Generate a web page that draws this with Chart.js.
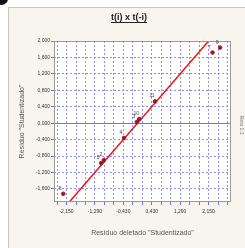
<!DOCTYPE html>
<html>
<head>
<meta charset="utf-8">
<script src="https://cdn.jsdelivr.net/npm/chart.js@4"></script>
<style>
  html, body { margin: 0; padding: 0; background: #ffffff; }
  #wrap { position: relative; width: 245px; height: 248px; overflow: hidden; }
  #frame { position: absolute; left: 8px; top: 7px; width: 245px; height: 248px;
           background: #f7f5ee; border-left: 1px solid #c8c6c0; border-top: 1px solid #c8c6c0; }
  #dot { position: absolute; left: -5px; top: -8px; width: 13px; height: 13px; border-radius: 50%; background: #111; }
  canvas { position: absolute; left: 0; top: 0; }
</style>
</head>
<body>
<div id="wrap">
  <div id="frame"></div>
  <div id="dot"></div>
  <canvas id="resChart" width="245" height="248"></canvas>
</div>
<script>
// tick labels
const xTickValues = [-2.15, -1.29, -0.43, 0.43, 1.29, 2.15];
const yTickValues = [-1.6, -1.2, -0.8, -0.4, 0, 0.4, 0.8, 1.2, 1.6, 2.0];

// observations: deleted studentized residual vs studentized residual
const obsLabels = ['6', '5', '2', '4', '3', '10', '11', '7', '9'];
const obsX = [-2.25, -1.10, -1.02, -0.41, -0.02, 0.05, 0.53, 2.27, 2.50];
const obsY = [-1.72, -0.97, -0.90, -0.36, 0.03, 0.10, 0.53, 1.72, 1.84];

// fitted line
const fitX = [-2.4, 2.4];
const fitY = [-2.23, 2.23];

const chartTitle = 't(i) x t(-i)';
const xMin = -2.53, xMax = 2.83;
const yMin = -1.92, yMax = 2.0;
const xGridStep = 0.86 / 3;

function fmt(v) {
    return v.toFixed(3).replace('.', ',');
}

function isMajor(list, v) {
    return list.some(t => Math.abs(t - v) < 1e-6);
}

// title, point labels, plot frame, right side note
const extras = {
    id: 'extras',
    beforeDraw(chart) {
        const a = chart.chartArea;
        chart.ctx.save();
        chart.ctx.fillStyle = '#ffffff';
        chart.ctx.fillRect(a.left, a.top, a.right - a.left, a.bottom - a.top);
        chart.ctx.restore();
    },
    afterDraw(chart) {
        const ctx = chart.ctx;
        const a = chart.chartArea;
        ctx.save();
        ctx.strokeStyle = '#9a9a9a';
        ctx.lineWidth = 1;
        ctx.strokeRect(a.left + 0.5, a.top + 0.5, a.right - a.left - 1, a.bottom - a.top - 1);

        // underlined title
        ctx.font = 'bold 9px "Liberation Sans", Arial, sans-serif';
        ctx.fillStyle = '#222';
        ctx.textAlign = 'center';
        ctx.textBaseline = 'alphabetic';
        const tx = 129;
        ctx.fillText(chartTitle, tx, 20);
        const w = ctx.measureText(chartTitle).width;
        ctx.strokeStyle = '#222';
        ctx.beginPath();
        ctx.moveTo(tx - w / 2, 22.5);
        ctx.lineTo(tx + w / 2, 22.5);
        ctx.stroke();

        // observation numbers
        const meta = chart.getDatasetMeta(0);
        ctx.font = '5px "Liberation Sans", Arial, sans-serif';
        ctx.fillStyle = '#444';
        meta.data.forEach((pt, i) => {
            ctx.fillText(obsLabels[i], pt.x - 3, pt.y - 4);
        });

        // small rotated note on the right
        ctx.translate(240, 125);
        ctx.rotate(Math.PI / 2);
        ctx.fillStyle = '#777';
        ctx.fillText('Reta 1:1', 0, 0);
        ctx.restore();
    }
};

const ctx = document.getElementById('resChart').getContext('2d');
const resChart = new Chart(ctx, {
    type: 'scatter',
    data: {
        datasets: [{
            label: 'Observações',
            data: obsX.map((x, i) => ({ x: x, y: obsY[i] })),
            backgroundColor: '#a01828',
            borderColor: '#a01828',
            pointRadius: 1.8,
            order: 0
        }, {
            label: 'Reta',
            data: fitX.map((x, i) => ({ x: x, y: fitY[i] })),
            showLine: true,
            borderColor: '#ee1515',
            borderWidth: 1.5,
            pointRadius: 0,
            order: 1
        }]
    },
    options: {
        responsive: false,
        animation: false,
        layout: { padding: { left: 12, right: 14, top: 41, bottom: 0 } },
        plugins: {
            legend: { display: false },
            tooltip: { enabled: false },
            title: { display: false }
        },
        scales: {
            x: {
                type: 'linear',
                min: xMin,
                max: xMax,
                afterBuildTicks: scale => {
                    const vals = [];
                    for (let k = -6; k <= 20; k++) {
                        const v = -2.15 + k * xGridStep;
                        if (v > xMin + 0.01 && v < xMax - 0.01) vals.push(+v.toFixed(6));
                    }
                    scale.ticks = vals.map(v => ({ value: v }));
                },
                afterFit: scale => { scale.height = 46; },
                ticks: {
                    autoSkip: false,
                    maxRotation: 0,
                    padding: 4,
                    color: '#333',
                    font: { family: '"Liberation Sans", Arial, sans-serif', size: 5 },
                    callback: v => isMajor(xTickValues, v) ? fmt(v) : ''
                },
                grid: {
                    color: ctx => (ctx.tick && Math.abs(ctx.tick.value) < 1e-6) ? '#7070ea' : '#9090f2',
                    lineWidth: 1,
                    tickLength: 3,
                    tickColor: '#7070ea'
                },
                border: {
                    display: false,
                    dash: ctx => (ctx.tick && Math.abs(ctx.tick.value) < 1e-6) ? [] : [2, 2]
                },
                title: {
                    display: true,
                    text: 'Resíduo deletado "Studentizado"',
                    color: '#555',
                    font: { family: '"Liberation Sans", Arial, sans-serif', size: 7 },
                    padding: { top: 0, bottom: 11 }
                }
            },
            y: {
                type: 'linear',
                min: yMin,
                max: yMax,
                afterBuildTicks: scale => {
                    scale.ticks = yTickValues.map(v => ({ value: v }));
                },
                afterFit: scale => { scale.width = 42; },
                ticks: {
                    autoSkip: false,
                    padding: 1,
                    color: '#333',
                    font: { family: '"Liberation Sans", Arial, sans-serif', size: 5 },
                    callback: v => fmt(v)
                },
                grid: {
                    color: ctx => (ctx.tick && Math.abs(ctx.tick.value) < 1e-6) ? '#7070ea' : '#9090f2',
                    lineWidth: 1,
                    tickLength: 3,
                    tickColor: '#7070ea'
                },
                border: {
                    display: false,
                    dash: ctx => (ctx.tick && Math.abs(ctx.tick.value) < 1e-6) ? [] : [2, 2]
                },
                title: {
                    display: true,
                    text: 'Resíduo "Studentizado"',
                    color: '#555',
                    font: { family: '"Liberation Sans", Arial, sans-serif', size: 7 },
                    padding: { top: 6, bottom: 0 }
                }
            }
        }
    },
    plugins: [extras]
});
</script>
</body>
</html>
